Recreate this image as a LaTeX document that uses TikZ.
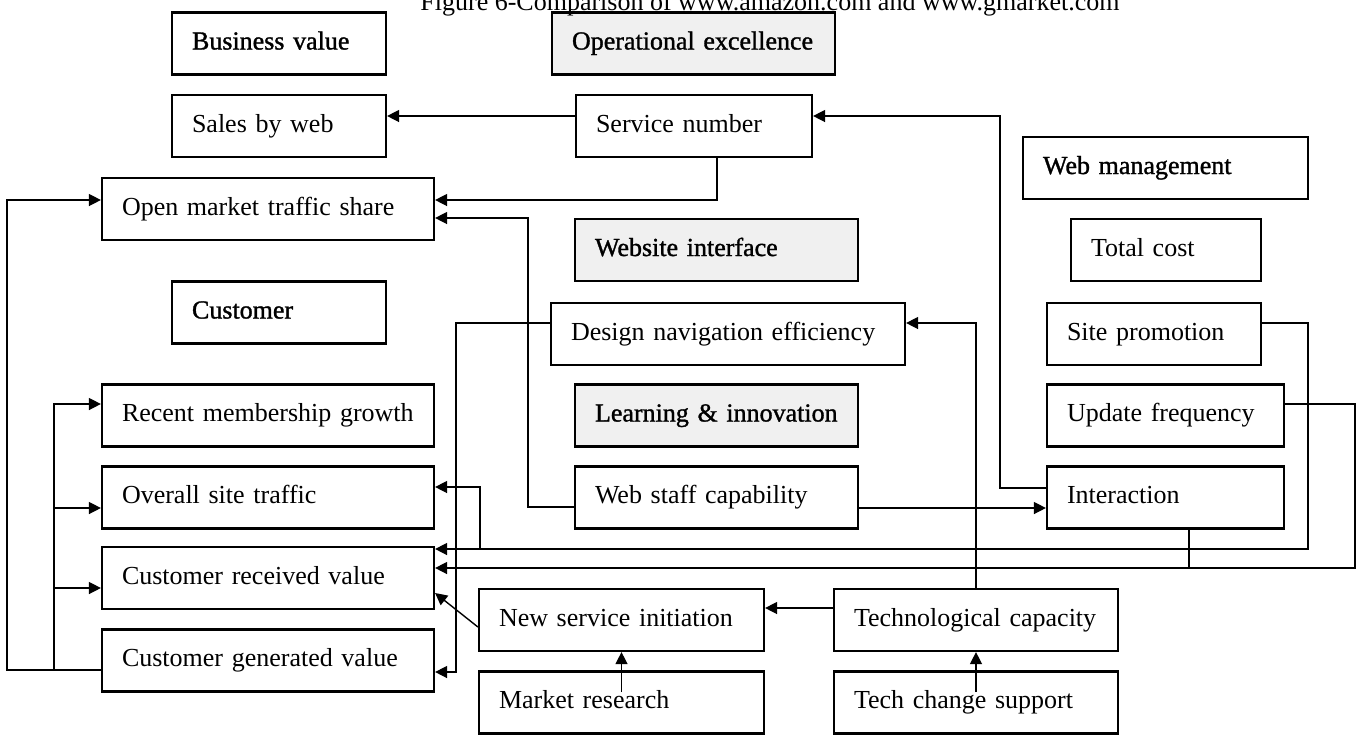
\documentclass[tikz,border=0pt]{standalone}
\usepackage{fontspec}
\setmainfont{Liberation Serif}
\newfontfamily\headfont{Liberation Serif}[FakeBold=1.2]
\usetikzlibrary{arrows.meta}
\begin{document}
\begin{tikzpicture}[x=0.5pt,y=-0.5pt,
	box/.style={draw,line width=1.1pt,minimum height=31pt,inner xsep=10pt,inner ysep=0pt,
		text width=#1,text height=9pt,text depth=3pt,font=\fontsize{13}{15}\selectfont},
	head/.style={box=#1,font=\fontsize{13}{15}\selectfont\headfont},
	arr/.style={line width=0.7pt,-{Triangle[length=6pt,width=6pt]}},
	link/.style={line width=0.7pt}]
\path[use as bounding box,fill=white] (0,0) rectangle (1357,736);
\node[head=87pt] (bv) at (279,43.5) {Business value};
\node[head=121.5pt,fill=black!6] (oe) at (693.5,43.5) {Operational excellence};
\node[box=87pt] (sw) at (279,126) {Sales by web};
\node[box=98pt] (sn) at (694,126) {Service number};
\node[head=122.5pt] (wm) at (1165.5,168) {Web management};
\node[box=146pt] (om) at (268,209) {Open market traffic share};
\node[head=121.5pt,fill=black!6] (wi) at (716.5,250) {Website interface};
\node[box=75pt] (tc) at (1166,250) {Total cost};
\node[head=87pt] (cu) at (279,312.5) {Customer};
\node[box=157pt] (dn) at (728,334) {Design navigation efficiency};
\node[box=87pt] (sp) at (1154,334) {Site promotion};
\node[box=146pt] (rm) at (268,415.5) {Recent membership growth};
\node[head=121.5pt,fill=black!6] (li) at (716.5,415.5) {Learning \& innovation};
\node[box=98.5pt] (uf) at (1165.5,415.5) {Update frequency};
\node[box=146pt] (os) at (268,497.5) {Overall site traffic};
\node[box=121.5pt] (ws) at (716.5,497.5) {Web staff capability};
\node[box=98.5pt] (ia) at (1165.5,497.5) {Interaction};
\node[box=146pt] (cr) at (268,578) {Customer received value};
\node[box=122.5pt] (ns) at (621.5,620) {New service initiation};
\node[box=122pt] (tcap) at (976,620) {Technological capacity};
\node[box=146pt] (cg) at (268,660.5) {Customer generated value};
\node[box=122.5pt] (mr) at (621.5,702.5) {Market research};
\node[box=122pt] (ts) at (976,702.5) {Tech change support};

\draw[arr] (sn.west |- 0,116) -- (sw.east |- 0,116);
\draw[arr] (sn.south -| 717,0) |- (om.east |- 0,200);
\draw[arr] (ia.west |- 0,488) -| (1000,116) -- (sn.east |- 0,116);
\draw[arr] (ws.west |- 0,507) -| (528,218) -- (om.east |- 0,218);
\draw[arr] (ws.east |- 0,508) -- (ia.west |- 0,508);
\draw[arr] (tcap.north) |- (dn.east |- 0,323);
\draw[arr] (tcap.west |- 0,608) -- (ns.east |- 0,608);
\draw[arr] (ts.north |- 0,692) -- (tcap.south);
\draw[arr] (mr.north |- 0,692) -- (ns.south);
\draw[arr] (ns.west |- 0,627) -- (cr.east |- 0,593);
\draw[arr] (dn.west |- 0,323) -| (456,672) -- (cg.east |- 0,672);

\coordinate (sj) at (480,549);
\draw[arr] (sp.east |- 0,323) -| (1308,549) -- (cr.east |- 0,549);
\draw[arr] (sj) |- (os.east |- 0,487);

\coordinate (uj) at (1189,568);
\draw[arr] (uf.east |- 0,404) -| (1355,568) -- (cr.east |- 0,568);
\draw[link] (ia.south -| uj) -- (uj);

\coordinate (cj) at (54,670);
\draw[arr] (cg.west |- 0,670) -| (7,200) -- (om.west |- 0,200);
\foreach \n/\y in {rm/404,os/508,cr/588}
	\draw[arr] (cj) |- (\n.west |- 0,\y);

\node[anchor=base,font=\fontsize{13}{15}\selectfont] (title) at (770,10)
	{Figure 6-Comparison of www.amazon.com and www.gmarket.com};
\end{tikzpicture}
\end{document}
